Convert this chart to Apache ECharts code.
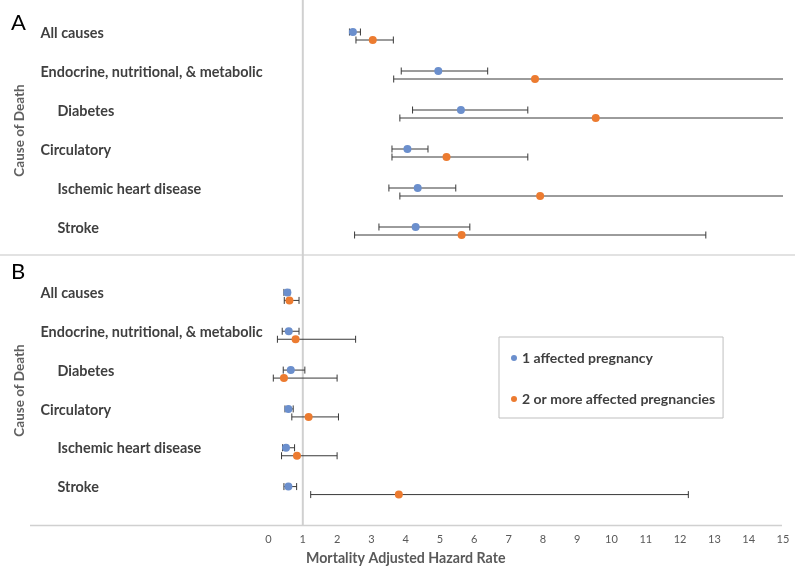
<!DOCTYPE html>
<html><head><meta charset="utf-8">
<script src="https://cdn.jsdelivr.net/npm/echarts@6/dist/echarts.min.js"></script>
<style>html,body{margin:0;padding:0;background:#fff}#c{width:800px;height:570px}</style>
</head><body><div id="c"></div>
<script>
// ---------- data ----------
const categories = ['All causes', 'Endocrine, nutritional, & metabolic', 'Diabetes', 'Circulatory', 'Ischemic heart disease', 'Stroke'];
const indented = [false, false, true, false, true, true];
const xMin = 0, xMax = 15, xStep = 1;   // tick labels 0..15
const refValue = 1;                      // reference line (HR = 1)
const seriesNames = ['1 affected pregnancy', '2 or more affected pregnancies'];
const panelLabels = ['A', 'B'];

// Panel A
const a1Point = [2.46, 4.95, 5.61, 4.05, 4.35, 4.29];
const a1Low   = [2.36, 3.87, 4.20, 3.60, 3.51, 3.22];
const a1High  = [2.68, 6.39, 7.56, 4.65, 5.46, 5.87];
const a2Point = [3.04, 7.77, 9.54, 5.19, 7.92, 5.63];
const a2Low   = [2.55, 3.65, 3.83, 3.60, 3.83, 2.51];
const a2High  = [3.64, 15, 15, 7.56, 15, 12.75];   // 15 = runs off the axis

// Panel B
const b1Point = [0.55, 0.59, 0.65, 0.58, 0.51, 0.58];
const b1Low   = [0.45, 0.40, 0.43, 0.48, 0.41, 0.45];
const b1High  = [0.62, 0.89, 1.06, 0.72, 0.76, 0.82];
const b2Point = [0.61, 0.79, 0.45, 1.17, 0.83, 3.80];
const b2Low   = [0.46, 0.26, 0.14, 0.68, 0.38, 1.23];
const b2High  = [0.89, 2.54, 2.00, 2.04, 2.00, 12.24];

// ---------- style ----------
const FONT = 'Lato, "Open Sans", sans-serif';
const BLUE = '#6b8fcd', ORANGE = '#ec7b30';
const DY = [-1, 7];
const AXIS_OFFSET = 19;

function errorSeries(g, low, high, dy) {
  return {
    type: 'custom', xAxisIndex: g, yAxisIndex: g, silent: true, z: 3,
    data: low.map((l, i) => [i, l, high[i]]),
    encode: { x: [1, 2], y: 0 },
    renderItem(params, api) {
      const cat = api.value(0), lo = api.value(1), hi = api.value(2);
      const p1 = api.coord([lo, cat]);
      const p2 = api.coord([Math.min(hi, xMax), cat]);
      const y = p1[1] + dy, h = 3.5;
      const st = { stroke: '#383838', lineWidth: 1 };
      const ch = [{ type: 'line', shape: { x1: p1[0], y1: y, x2: p2[0], y2: y }, style: st }];
      ch.push({ type: 'line', shape: { x1: p1[0], y1: y - h, x2: p1[0], y2: y + h }, style: st });
      if (hi < xMax) ch.push({ type: 'line', shape: { x1: p2[0], y1: y - h, x2: p2[0], y2: y + h }, style: st });
      return { type: 'group', children: ch };
    }
  };
}
function pointSeries(g, name, pts, color, dy) {
  return {
    type: 'scatter', name, xAxisIndex: g, yAxisIndex: g, z: 4,
    symbol: 'circle', symbolSize: 8, symbolOffset: [0, dy],
    itemStyle: { color, opacity: 1 },
    data: pts.map((v, i) => [v, i])
  };
}
function yAxis(g) {
  return {
    type: 'category', gridIndex: g, data: categories, inverse: true,
    axisLine: { show: false }, axisTick: { show: false }, splitLine: { show: false },
    axisLabel: {
      align: 'left', margin: 228,
      formatter: (v, i) => indented[i] ? '{s|' + v + '}' : '{m|' + v + '}',
      rich: {
        m: { fontFamily: FONT, fontWeight: 'bold', fontSize: 14.4, color: '#404040' },
        s: { fontFamily: FONT, fontWeight: 'bold', fontSize: 14.4, color: '#404040', padding: [0, 0, 0, 17] }
      }
    },
    name: 'Cause of Death', nameLocation: 'middle', nameRotate: 90, nameGap: 242,
    nameTextStyle: { fontFamily: FONT, fontWeight: 'bold', fontSize: 13.5, color: '#606060' }
  };
}
function xAxis(g, show) {
  return {
    type: 'value', gridIndex: g, min: xMin, max: xMax, interval: xStep,
    show: show, offset: AXIS_OFFSET,
    axisLine: { show: false }, axisTick: { show: false }, splitLine: { show: false },
    axisLabel: { margin: 8, fontFamily: FONT, fontSize: 11, color: '#595959' }
  };
}

const chart = echarts.init(document.getElementById('c'), null, { renderer: 'canvas' });
chart.setOption({
  animation: false,
  backgroundColor: '#fff',
  grid: [
    { left: 268.5, top: 13.5, width: 514.5, height: 234 },
    { left: 268.5, top: 274, width: 514.5, height: 233 }
  ],
  xAxis: [xAxis(0, false), xAxis(1, true)],
  yAxis: [yAxis(0), yAxis(1)],
  title: {
    text: 'Mortality Adjusted Hazard Rate', left: 306, top: 551, padding: 0,
    textStyle: { fontFamily: FONT, fontWeight: 'bold', fontSize: 14.2, color: '#595959' }
  },
  legend: {
    data: seriesNames.map(n => ({ name: n, icon: 'circle' })),
    orient: 'vertical', left: 499, top: 337,
    padding: [13, 8, 11, 12], itemGap: 25, itemWidth: 6, itemHeight: 6,
    borderColor: '#bfbfbf', borderWidth: 1,
    textStyle: { fontFamily: FONT, fontWeight: 'bold', fontSize: 14, color: '#404040', lineHeight: 16 }
  },
  graphic: [
    { type: 'line', shape: { x1: 0, y1: 255, x2: 795, y2: 255 }, style: { stroke: '#d9d9d9', lineWidth: 1.5 }, z: 1 },
    { type: 'line', shape: { x1: 30, y1: 525.5, x2: 782, y2: 525.5 }, style: { stroke: '#d0d0d0', lineWidth: 1.5 }, z: 1 },
    { type: 'text', left: 11, top: 12, style: { text: panelLabels[0], font: '22px ' + FONT, fill: '#000' } },
    { type: 'text', left: 11, top: 261, style: { text: panelLabels[1], font: '22px ' + FONT, fill: '#000' } }
  ],
  series: [
    {
      type: 'custom', xAxisIndex: 1, yAxisIndex: 1, silent: true, z: 1,
      data: [[refValue, 0]], encode: { x: 0, y: 1 },
      renderItem(params, api) {
        const x = api.coord([api.value(0), 0])[0];
        const cs = params.coordSys;
        return { type: 'line', shape: { x1: x, y1: 0, x2: x, y2: cs.y + cs.height + AXIS_OFFSET }, style: { stroke: '#d0d0d0', lineWidth: 2 } };
      }
    },
    errorSeries(0, a1Low, a1High, DY[0]), errorSeries(0, a2Low, a2High, DY[1]),
    errorSeries(1, b1Low, b1High, DY[0]), errorSeries(1, b2Low, b2High, DY[1]),
    pointSeries(0, seriesNames[0], a1Point, BLUE, DY[0]),
    pointSeries(0, seriesNames[1], a2Point, ORANGE, DY[1]),
    pointSeries(1, seriesNames[0], b1Point, BLUE, DY[0]),
    pointSeries(1, seriesNames[1], b2Point, ORANGE, DY[1])
  ]
});
</script></body></html>
